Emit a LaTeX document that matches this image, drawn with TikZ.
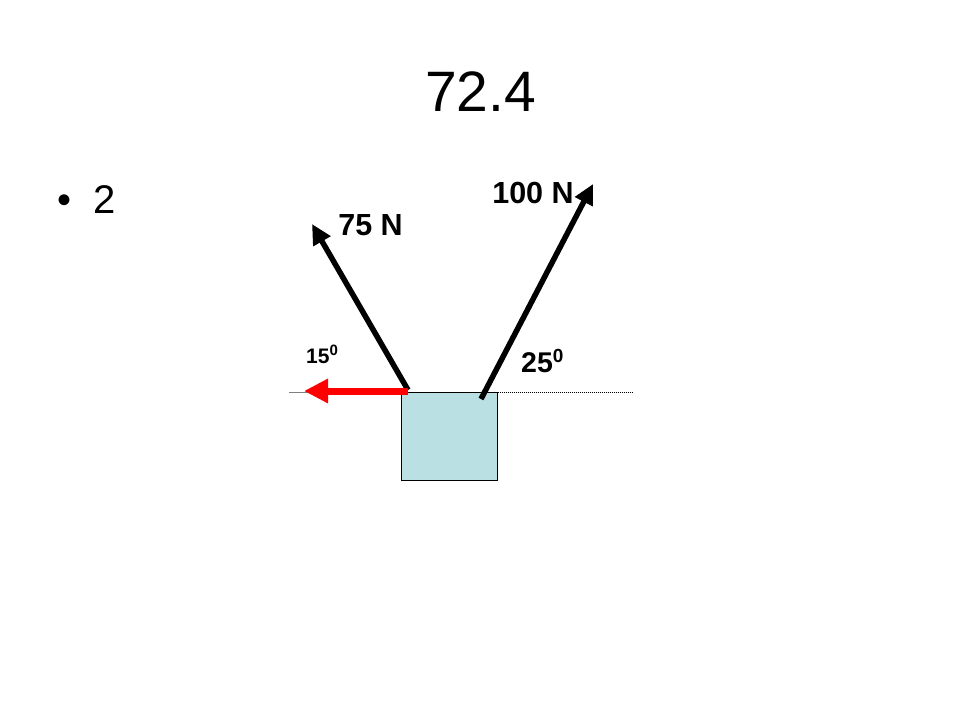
\documentclass[tikz,border=0pt]{standalone}
\usepackage{fontspec}
\setmainfont{Liberation Sans}
\usetikzlibrary{arrows.meta}
\definecolor{boxblue}{HTML}{BBE0E3}
\definecolor{refline}{HTML}{7F7F7F}
\begin{document}
\begin{tikzpicture}[x=1pt,y=-1pt,
  force/.style={line width=5.5pt,-{Triangle[length=20pt,width=19pt]}},
  redforce/.style={line width=7pt,red,-{Triangle[length=24pt,width=23pt]}},
  lab/.style={inner sep=0pt,font=\bfseries\fontsize{30.5}{30.5}\selectfont},
  small/.style={inner sep=0pt}]
\useasboundingbox (0,0) rectangle (960,720);
% title and bullet
\node[inner sep=0pt,anchor=base,font=\fontsize{57}{57}\selectfont] (title) at (480.5,111) {72.4};
\node[inner sep=0pt,anchor=base,font=\fontsize{40}{40}\selectfont] (bullet) at (65,213) {•};
\node[inner sep=0pt,anchor=base west,font=\fontsize{40}{40}\selectfont] (item) at (93,213) {2};
% reference line
\coordinate (lineL) at (289,392);
\coordinate (lineR) at (632,392);
\node[draw=black,line width=1pt,fill=boxblue,minimum width=96pt,minimum height=88pt,inner sep=0pt,anchor=north west] (box) at (400.5,392) {};
\draw[refline,line width=1pt] (lineL) -- (box.north west);
\draw[black,line width=1pt,dash pattern=on 1pt off 1pt] (box.north east) -- (lineR);
% forces
\coordinate (s75) at (408,390);
\coordinate (t75) at (312,224);
\coordinate (s100) at (481,399);
\coordinate (t100) at (593,184);
\coordinate (sred) at (408,391);
\coordinate (tred) at (304,391);
\draw[force] (s75) -- (t75);
\draw[force] (s100) -- (t100);
\draw[redforce] (sred) -- (tred);
% labels
\node[lab,anchor=base] (l100) at (533,203) {100 N};
\node[lab,anchor=base] (l75) at (370.5,235) {75 N};
\node[small,anchor=base west] (a25) at (521,372) {\bfseries\fontsize{28.5}{28.5}\selectfont 25\raisebox{10pt}{\fontsize{19}{19}\selectfont 0}};
\node[small,anchor=base west] (a15) at (306,363) {\bfseries\fontsize{21}{21}\selectfont 15\raisebox{8pt}{\fontsize{15}{15}\selectfont 0}};
\end{tikzpicture}
\end{document}
